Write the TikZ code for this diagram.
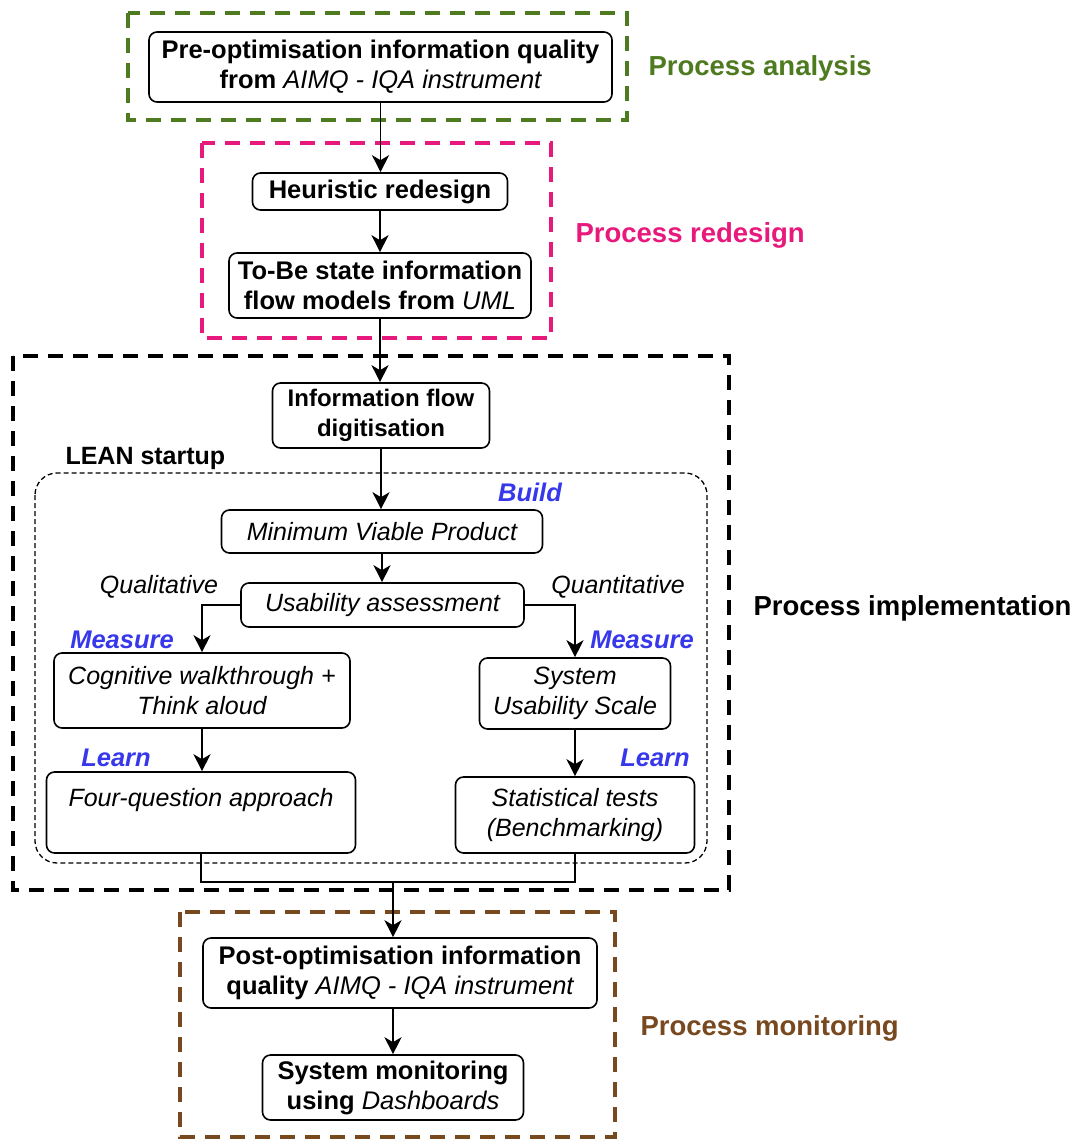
\documentclass[tikz,border=0pt]{standalone}
\usepackage{fontspec}
\setmainfont{Liberation Sans}
\usetikzlibrary{arrows.meta,calc}
\definecolor{phgreen}{RGB}{78,122,32}
\definecolor{phpink}{RGB}{232,25,125}
\definecolor{phbrown}{RGB}{120,72,30}
\definecolor{lsblue}{RGB}{55,55,235}
\newcommand\emi[1]{{\mdseries\itshape #1}}
\begin{document}
\begin{tikzpicture}[x=1pt,y=-1pt,
  every node/.style={font=\fontsize{25.5}{30}\selectfont},
  box/.style={draw,line width=1.6pt,rounded corners=8pt,align=center,inner sep=2pt},
  hbox/.style={box,font=\fontsize{25.5}{30}\selectfont\bfseries},
  ibox/.style={box,font=\fontsize{25}{30}\selectfont\itshape},
  phase/.style={line width=4pt,dash pattern=on 15pt off 10pt},
  phlabel/.style={anchor=west,font=\fontsize{27.5}{32}\selectfont\bfseries},
  stage/.style={font=\fontsize{25.5}{30}\selectfont\bfseries\itshape,text=lsblue},
  side/.style={font=\fontsize{25}{30}\selectfont\itshape},
  arr/.style={line width=1.6pt,-{Stealth[length=17pt,width=17pt,inset=5pt]}},
  ln/.style={line width=1.6pt}]
\useasboundingbox[fill=white] (0,0) rectangle (1085,1142);

% phase frames
\draw[phase,phgreen] (128,13) rectangle (627,120);
\draw[phase,phpink] (202,143) rectangle (551,338);
\draw[phase,black] (13,356) rectangle (729,890);
\draw[phase,phbrown] (180,912) rectangle (615,1137);
\draw[line width=1.3pt,dash pattern=on 5pt off 3pt,rounded corners=22pt] (35,473) rectangle (707,863);

% phase labels
\node[phlabel,text=phgreen] (lanalysis) at (645,68) {Process analysis};
\node[phlabel,text=phpink] (lredesign) at (572,235) {Process redesign};
\node[phlabel] (limpl) at (750,608) {Process implementation};
\node[phlabel,text=phbrown] (lmonitor) at (637,1028) {Process monitoring};
\node[anchor=west,font=\fontsize{25}{30}\selectfont\bfseries] (lean) at (62,458) {LEAN startup};

% main column
\node[hbox,minimum width=463pt,minimum height=70pt] (pre) at (380.5,67) {Pre-optimisation information quality\\from \emi{AIMQ - IQA instrument}};
\node[hbox,minimum width=255pt,minimum height=37pt] (heur) at (380,191.5) {Heuristic redesign};
\node[hbox,minimum width=302pt,minimum height=65pt] (tobe) at (380,285.5) {To-Be state information\\flow models from \emi{UML}};
\node[box,minimum width=217pt,minimum height=65pt,font=\fontsize{24}{30}\selectfont\bfseries] (info) at (381,415.5) {Information flow\\digitisation};
\node[ibox,minimum width=321pt,minimum height=43pt] (mvp) at (382,531.5) {Minimum Viable Product};
\node[ibox,minimum width=283pt,minimum height=44pt] (usab) at (382.5,605) {Usability assessment};
\node[ibox,minimum width=296pt,minimum height=75pt] (cog) at (202,690.5) {Cognitive walkthrough +\\Think aloud};
\node[ibox,minimum width=191pt,minimum height=71pt] (sus) at (575,693.5) {System\\Usability Scale};
\node[ibox,minimum width=309pt,minimum height=81pt] (four) at (201,812.5) {Four-question approach\\\mbox{}};
\node[ibox,minimum width=239pt,minimum height=76pt] (stat) at (575,815) {Statistical tests\\(Benchmarking)};
\node[hbox,minimum width=394pt,minimum height=70pt] (post) at (400,973) {Post-optimisation information\\quality \emi{AIMQ - IQA instrument}};
\node[hbox,minimum width=261pt,minimum height=65pt] (sysmon) at (393,1087.5) {System monitoring\\using \emi{Dashboards}};

% stage and branch labels
\node[stage] (build) at (530,492) {Build};
\node[side] (qual) at (159,587) {Qualitative};
\node[side] (quant) at (618,587) {Quantitative};
\node[stage] (meas1) at (122,640) {Measure};
\node[stage] (meas2) at (642,640) {Measure};
\node[stage] (learn1) at (116,758) {Learn};
\node[stage] (learn2) at (655,758) {Learn};

% connectors
\draw[arr] (pre.south) -- (pre.south |- heur.north);
\draw[arr] (heur.south) -- (heur.south |- tobe.north);
\draw[arr] (tobe.south) -- (tobe.south |- info.north);
\draw[arr] (info.south) -- (info.south |- mvp.north);
\draw[arr] (mvp.south) -- (mvp.south |- usab.north);
\draw[arr] (usab.west) -| (cog.north);
\draw[arr] (usab.east) -| (sus.north);
\draw[arr] (cog.south) -- (cog.south |- four.north);
\draw[arr] (sus.south) -- (sus.south |- stat.north);
\coordinate (merge) at (393,882);
\draw[ln] (four.south) |- (merge) -| (stat.south);
\draw[arr] (merge) -- (merge |- post.north);
\draw[arr] (post.south -| sysmon.north) -- (sysmon.north);
\end{tikzpicture}
\end{document}
